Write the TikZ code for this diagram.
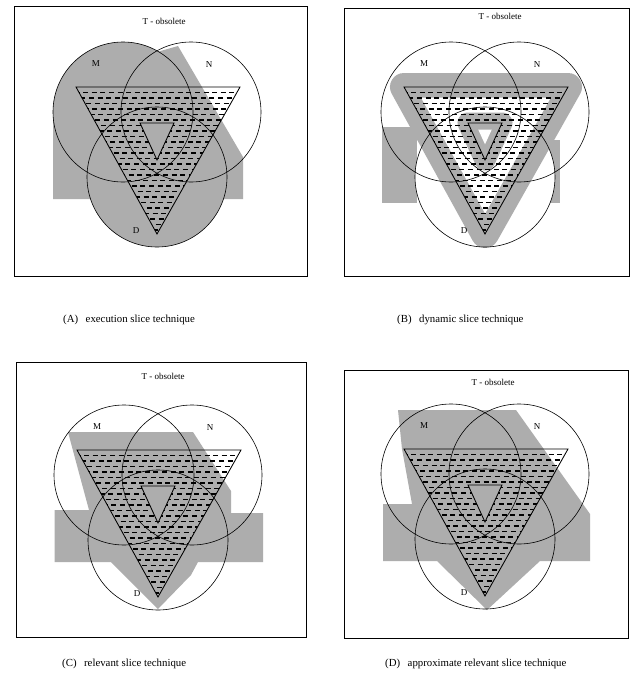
\documentclass[tikz,border=0pt]{standalone}
\usepackage{fontspec}
\setmainfont{Liberation Serif}
\definecolor{halftone}{gray}{0.68}
\tikzset{
  venn/.style={line width=0.6pt},
  tri/.style={line width=0.85pt, line join=miter},
  dashrow/.style={line width=1.05pt, dash pattern=on 5pt off 3.6pt},
  boxframe/.style={line width=0.7pt},
  lbl/.style={font=\fontsize{9}{10}\selectfont, inner sep=0pt},
  ttl/.style={font=\fontsize{9}{10}\selectfont, inner sep=0pt},
  captext/.style={font=\fontsize{10.8}{12}\selectfont, inner sep=0pt, anchor=west},
  band/.style={draw=halftone, fill=halftone, line join=round},
}
\newcommand\slicepanel[1]{%
  \coordinate (#1ta) at (76,87);
  \coordinate (#1tb) at (240,87);
  \coordinate (#1tc) at (157,234);
  \coordinate (#1ia) at (140,123);
  \coordinate (#1ib) at (174,123);
  \coordinate (#1ic) at (157,160);
  \begin{scope}[even odd rule]
    \clip (#1ta) -- (#1tb) -- (#1tc) -- cycle (#1ia) -- (#1ib) -- (#1ic) -- cycle;
    \foreach \yy [count=\k] in {92.5,98,...,232} {
      \draw[dashrow, dash phase=\k*2.7pt] (60,\yy) -- (260,\yy); }
  \end{scope}
  \draw[venn] (123,112) circle[radius=70pt];
  \draw[venn] (191,112) circle[radius=70pt];
  \draw[venn] (157,177) circle[radius=70pt];
  \draw[tri] (#1ta) -- (#1tb) -- (#1tc) -- cycle;
  \draw[tri] (#1ia) -- (#1ib) -- (#1ic) -- cycle;
  \node[lbl] (#1m) at (96,64) {M};
  \node[lbl] (#1n) at (209,65) {N};
  \node[lbl] (#1d) at (136,231) {D};
}
\begin{document}
\begin{tikzpicture}[x=1pt,y=-1pt]
\useasboundingbox (0,0) rectangle (630,680);
\fill[white] (0,0) rectangle (630,680);
% ---------- panel A ----------
\begin{scope}
  \fill[halftone] (123,112) circle[radius=70pt];
  \fill[halftone] (157,177) circle[radius=70pt];
  \fill[halftone] (123,60) -- (157,52) -- (178,46) -- (243,157) -- (243,199) -- (53,199) -- (53,112) -- cycle;
  \slicepanel{A}
\end{scope}
% ---------- panel B ----------
\begin{scope}[shift={(328,0)}]
  \fill[halftone] (54,127) rectangle (89,203);
  \fill[halftone] (205,140) rectangle (232,203);
  \fill[white] (157,177) circle[radius=70pt];
  \path[band, line width=28pt] (76,87) -- (240,87) -- (157,234) -- cycle;
  \fill[white] (92.9,97.5) -- (222.9,97.5) -- (157.1,213.5) -- cycle;
  \path[band, line width=21pt] (140,123) -- (174,123) -- (157,160) -- cycle;
  \fill[white] (150.2,129.5) -- (163.8,129.5) -- (157,144.3) -- cycle;
  \slicepanel{B}
\end{scope}
% ---------- panel C ----------
\begin{scope}[shift={(1,363)}]
  \fill[halftone] (67,69) -- (192,69) -- (230,128) -- (230,150) -- (262,150) -- (262,199)
     -- (197,199) -- (190,212) -- (157,246) -- (110,199) -- (53.5,199) -- (53.5,147)
     -- (88,147) -- (78,110) -- cycle;
  \slicepanel{C}
\end{scope}
% ---------- panel D ----------
\begin{scope}[shift={(328,362)}]
  \fill[halftone] (70,48) -- (188,48) -- (262,152) -- (262,199) -- (212,199) -- (159,248)
     -- (109,199) -- (55,199) -- (55,142) -- (84,142) -- (80,120) -- (74,87) -- cycle;
  \slicepanel{D}
\end{scope}
% ---------- frames, titles, captions ----------
\draw[boxframe] (14,6) rectangle (307,276);
\draw[boxframe] (344,8) rectangle (629,276);
\draw[boxframe] (16,362) rectangle (306,637);
\draw[boxframe] (344,370) rectangle (628,638);
\node[ttl] (tA) at (164,21) {T - obsolete};
\node[ttl] (tB) at (500,16) {T - obsolete};
\node[ttl] (tC) at (163,376) {T - obsolete};
\node[ttl] (tD) at (493,382) {T - obsolete};
\node[captext] (capA) at (63,320) {(A)\hspace{0.7em}execution slice technique};
\node[captext] (capB) at (397,320) {(B)\hspace{0.7em}dynamic slice technique};
\node[captext] (capC) at (62,664) {(C)\hspace{0.7em}relevant slice technique};
\node[captext] (capD) at (385,664) {(D)\hspace{0.7em}approximate relevant slice technique};
\end{tikzpicture}
\end{document}
